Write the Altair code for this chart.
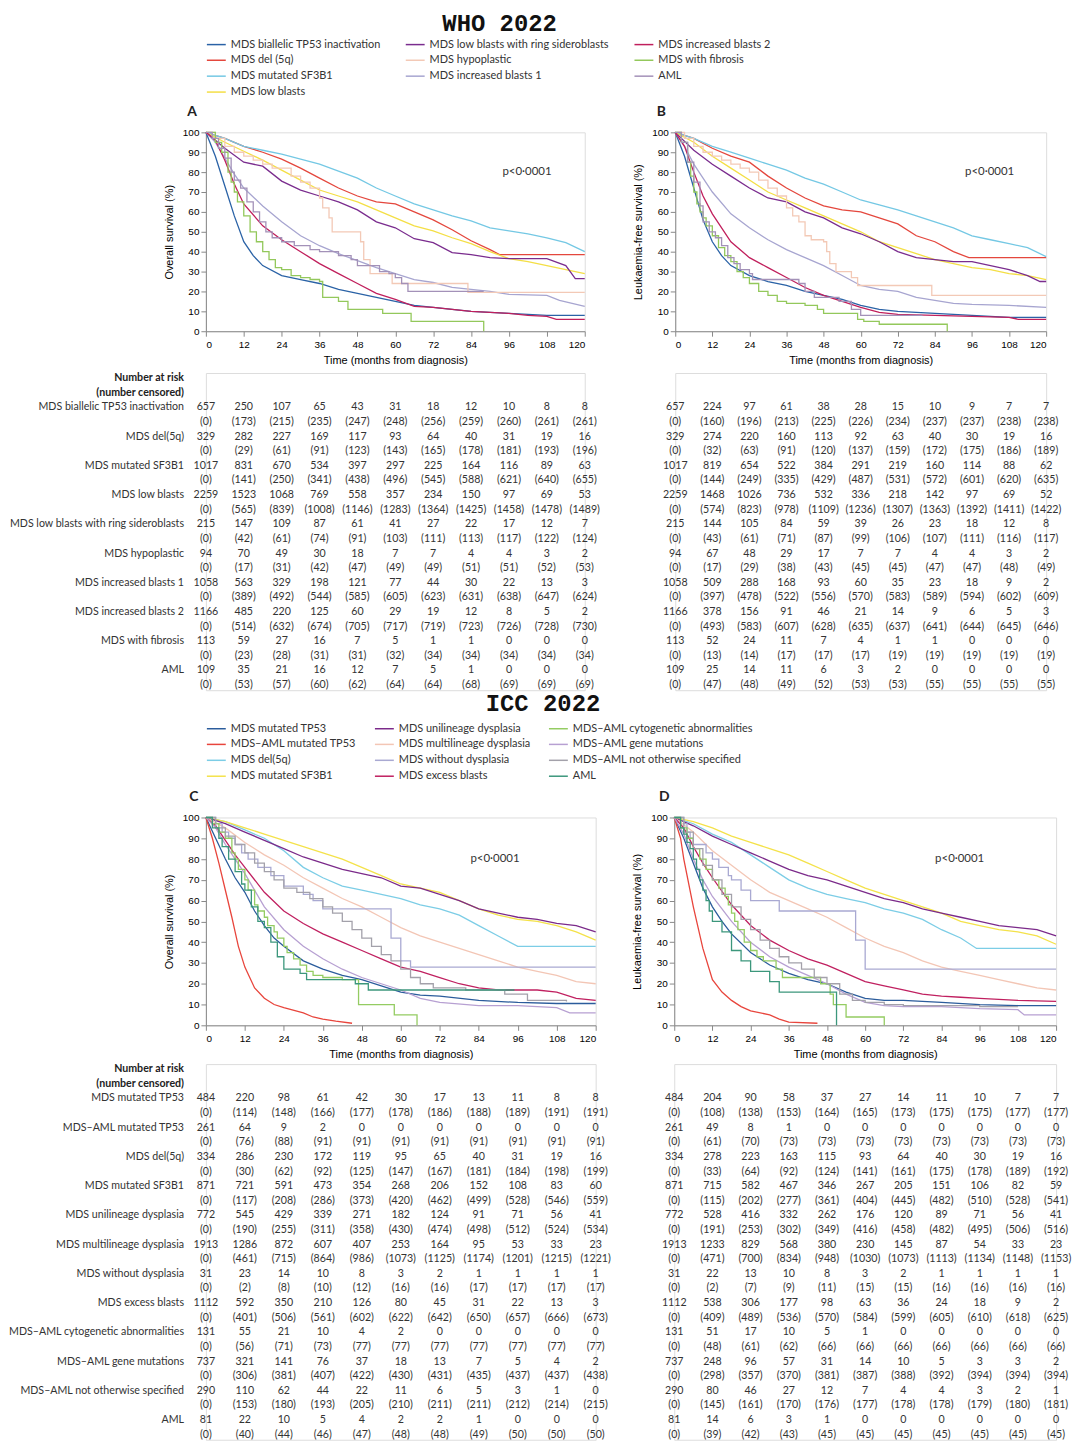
import altair as alt
import pandas as pd

FONT = "Lato"
MONTHS = [0, 12, 24, 36, 48, 60, 72, 84, 96, 108, 120]
Y_TICKS = list(range(0, 101, 10))
PVAL = "p<0\u00b70001"
D = "\u2013"

# ---------------- WHO 2022 ----------------
WHO_GROUPS = ["MDS biallelic TP53 inactivation", "MDS del (5q)", "MDS mutated SF3B1", "MDS low blasts",
              "MDS low blasts with ring sideroblasts", "MDS hypoplastic", "MDS increased blasts 1",
              "MDS increased blasts 2", "MDS with fibrosis", "AML"]
WHO_TABLE_LABELS = ["MDS biallelic TP53 inactivation", "MDS del(5q)", "MDS mutated SF3B1", "MDS low blasts",
                    "MDS low blasts with ring sideroblasts", "MDS hypoplastic", "MDS increased blasts 1",
                    "MDS increased blasts 2", "MDS with fibrosis", "AML"]
WHO_COLORS = ["#2a62a6", "#e4473d", "#74c8e4", "#f4df45", "#7a2c8e", "#f3c9b6", "#a7a5d0",
              "#c01f5c", "#93c85b", "#a391b8"]
# legend domain order (gives 3 columns: 4 / 3 / 3 entries, as in the figure)
WHO_LEGEND_ORDER = [0, 1, 2, 9, 4, 5, 6, 3, 7, 8]
WHO_STEP = ["MDS hypoplastic", "MDS with fibrosis", "AML"]

WHO_OS = {
    "MDS biallelic TP53 inactivation": [(0, 100), (3, 88), (6, 73), (9, 58), (12, 45), (15, 38), (18, 33), (24, 28), (30, 26), (36, 24), (42, 21), (48, 19), (54, 17), (60, 15), (66, 13), (72, 12), (84, 10), (96, 9), (108, 8), (120, 8)],
    "MDS del (5q)": [(0, 100), (6, 97), (12, 93), (18, 90), (24, 86.5), (30, 82), (36, 77), (42, 72), (48, 68), (54, 65), (60, 64), (66, 60), (72, 56), (78, 51), (84, 45.5), (90, 41), (93, 38.5), (120, 38.5)],
    "MDS mutated SF3B1": [(0, 100), (6, 97), (12, 93), (18, 91), (24, 89), (30, 86.5), (36, 84), (42, 80.5), (48, 77), (54, 72), (60, 68), (66, 64), (72, 61), (78, 58), (84, 55.5), (90, 52), (96, 50.5), (102, 49), (108, 47), (114, 44.5), (120, 40)],
    "MDS low blasts": [(0, 100), (6, 95), (12, 90.5), (18, 86), (24, 81), (30, 76), (36, 71), (42, 68), (48, 65), (54, 61), (60, 57), (66, 53), (72, 50.5), (78, 47), (84, 44), (90, 40), (96, 36.5), (102, 35), (108, 33), (114, 31), (120, 29)],
    "MDS low blasts with ring sideroblasts": [(0, 100), (6, 92), (12, 85), (18, 83), (24, 75.5), (30, 71), (36, 68), (42, 65), (48, 61), (54, 55), (60, 52), (66, 46.5), (72, 44.5), (78, 39.5), (84, 38.5), (90, 37), (96, 36.5), (108, 36.5), (114, 33), (117, 26.5), (120, 26.5)],
    "MDS hypoplastic": [(0, 100), (3, 97), (6, 93), (9, 90), (12, 88), (15, 86), (18, 84), (21, 82), (27, 78), (30, 75), (33, 72), (36, 67), (37, 62), (39, 57), (40, 50), (49, 45), (50, 36), (52, 29), (59, 24), (83, 19.5), (120, 19.5)],
    "MDS increased blasts 1": [(0, 100), (3, 95), (6, 87), (9, 79), (12, 72), (18, 63), (24, 55), (30, 48), (36, 43), (42, 39), (48, 35.5), (54, 32), (60, 29), (66, 26), (72, 24.5), (78, 22), (84, 21), (90, 20), (96, 18.5), (108, 18), (112, 15.5), (116, 14), (120, 12.5)],
    "MDS increased blasts 2": [(0, 100), (3, 96), (6, 86), (9, 74), (12, 64), (18, 53), (24, 46), (30, 40), (36, 34), (42, 29), (48, 24), (54, 19), (60, 16), (66, 12.5), (72, 12), (78, 11), (84, 10), (90, 9.5), (96, 9), (102, 8), (108, 7.5), (111, 6), (120, 6)],
    "MDS with fibrosis": [(0, 100), (3, 95), (5, 90), (7, 80), (8, 75), (9, 70), (10, 65), (12, 58), (14, 50), (16, 45), (18, 40), (20, 36), (22, 32), (24, 31), (27, 28), (30, 27), (33, 26), (36, 25), (37, 17), (42, 15), (45, 11), (56, 9), (65, 5), (88, 0)],
    "AML": [(0, 100), (2, 97), (4, 92), (6, 87), (8, 80), (9, 76), (11, 72), (13, 65), (15, 60), (17, 55), (19, 50), (21, 47), (24, 45), (28, 43), (33, 41), (36, 40), (42, 38), (46, 36), (48, 33), (55, 30), (58, 29), (60, 27), (62, 24), (64, 20), (88, 20)],
}

WHO_LFS = {
    "MDS biallelic TP53 inactivation": [(0, 100), (3, 88), (6, 72), (9, 56), (12, 45), (15, 38), (18, 33), (24, 28), (30, 25), (36, 23), (42, 20), (48, 18), (54, 16), (60, 13), (66, 11), (72, 10), (84, 9), (96, 8), (108, 7), (120, 7)],
    "MDS del (5q)": [(0, 100), (6, 97), (12, 92), (18, 88), (24, 85), (30, 78), (36, 72), (42, 67), (48, 63), (54, 61), (60, 60), (66, 57), (72, 54), (78, 48), (84, 45), (90, 40), (95, 37), (120, 37)],
    "MDS mutated SF3B1": [(0, 100), (6, 97), (12, 93), (18, 90), (24, 87), (30, 84), (36, 81), (42, 77), (48, 74), (54, 70), (60, 66), (66, 63.5), (72, 61), (78, 58), (84, 55), (90, 52), (96, 48), (102, 46), (108, 44), (114, 42), (120, 37.5)],
    "MDS low blasts": [(0, 100), (6, 95), (12, 88), (18, 82), (24, 76), (30, 70), (36, 66), (42, 62), (48, 58), (54, 54), (60, 50), (66, 45), (72, 42), (78, 39), (84, 36), (90, 34), (96, 32), (102, 31), (108, 29), (114, 28), (120, 26)],
    "MDS low blasts with ring sideroblasts": [(0, 100), (6, 91), (12, 84), (18, 78), (24, 72), (30, 67), (36, 65), (42, 60), (48, 57), (54, 52), (60, 49), (66, 45), (72, 40), (78, 37), (84, 36), (90, 35), (96, 35), (102, 33), (108, 31), (114, 28), (118, 25), (120, 25)],
    "MDS hypoplastic": [(0, 100), (3, 97), (6, 93), (9, 90), (12, 88), (15, 86), (18, 84), (21, 82), (24, 80), (27, 76), (30, 72), (33, 68), (36, 62), (38, 58), (40, 55), (42, 48), (44, 46), (48, 45), (49, 40), (50, 34), (52, 30), (57, 27), (59, 23), (83, 18), (120, 18)],
    "MDS increased blasts 1": [(0, 100), (3, 93), (6, 84), (9, 77), (12, 70), (18, 59), (24, 52), (30, 46), (36, 41), (42, 37), (48, 33), (54, 28), (60, 23), (66, 21), (72, 20), (78, 17), (84, 15.5), (90, 14), (96, 13.5), (108, 13), (120, 12)],
    "MDS increased blasts 2": [(0, 100), (3, 93), (6, 80), (9, 68), (12, 59), (18, 45), (24, 37), (30, 32), (36, 27), (42, 22), (48, 18), (54, 15), (60, 12), (66, 9.5), (72, 8.5), (84, 8), (96, 7.5), (108, 7), (111, 6), (120, 6)],
    "MDS with fibrosis": [(0, 100), (2, 95), (4, 85), (5, 78), (6, 70), (7, 64), (8, 60), (9, 57), (10, 53), (12, 48), (14, 42), (16, 38), (18, 35), (20, 30), (22, 27), (24, 24), (27, 20), (30, 18), (33, 15), (36, 14), (42, 13), (46, 11), (48, 9), (59, 6), (61, 5), (66, 3.5), (88, 0)],
    "AML": [(0, 100), (2, 95), (4, 85), (6, 75), (8, 63), (9, 55), (11, 50), (13, 47), (15, 43), (17, 37), (19, 34), (21, 31), (24, 29), (25, 26), (40, 24), (42, 20), (45, 17), (53, 15), (57, 11), (60, 8), (80, 8)],
}

WHO_OS_RISK = [[657, 250, 107, 65, 43, 31, 18, 12, 10, 8, 8], [329, 282, 227, 169, 117, 93, 64, 40, 31, 19, 16],
               [1017, 831, 670, 534, 397, 297, 225, 164, 116, 89, 63], [2259, 1523, 1068, 769, 558, 357, 234, 150, 97, 69, 53],
               [215, 147, 109, 87, 61, 41, 27, 22, 17, 12, 7], [94, 70, 49, 30, 18, 7, 7, 4, 4, 3, 2],
               [1058, 563, 329, 198, 121, 77, 44, 30, 22, 13, 3], [1166, 485, 220, 125, 60, 29, 19, 12, 8, 5, 2],
               [113, 59, 27, 16, 7, 5, 1, 1, 0, 0, 0], [109, 35, 21, 16, 12, 7, 5, 1, 0, 0, 0]]
WHO_OS_CENS = [[0, 173, 215, 235, 247, 248, 256, 259, 260, 261, 261], [0, 29, 61, 91, 123, 143, 165, 178, 181, 193, 196],
               [0, 141, 250, 341, 438, 496, 545, 588, 621, 640, 655], [0, 565, 839, 1008, 1146, 1283, 1364, 1425, 1458, 1478, 1489],
               [0, 42, 61, 74, 91, 103, 111, 113, 117, 122, 124], [0, 17, 31, 42, 47, 49, 49, 51, 51, 52, 53],
               [0, 389, 492, 544, 585, 605, 623, 631, 638, 647, 624], [0, 514, 632, 674, 705, 717, 719, 723, 726, 728, 730],
               [0, 23, 28, 31, 31, 32, 34, 34, 34, 34, 34], [0, 53, 57, 60, 62, 64, 64, 68, 69, 69, 69]]
WHO_LFS_RISK = [[657, 224, 97, 61, 38, 28, 15, 10, 9, 7, 7], [329, 274, 220, 160, 113, 92, 63, 40, 30, 19, 16],
                [1017, 819, 654, 522, 384, 291, 219, 160, 114, 88, 62], [2259, 1468, 1026, 736, 532, 336, 218, 142, 97, 69, 52],
                [215, 144, 105, 84, 59, 39, 26, 23, 18, 12, 8], [94, 67, 48, 29, 17, 7, 7, 4, 4, 3, 2],
                [1058, 509, 288, 168, 93, 60, 35, 23, 18, 9, 2], [1166, 378, 156, 91, 46, 21, 14, 9, 6, 5, 3],
                [113, 52, 24, 11, 7, 4, 1, 1, 0, 0, 0], [109, 25, 14, 11, 6, 3, 2, 0, 0, 0, 0]]
WHO_LFS_CENS = [[0, 160, 196, 213, 225, 226, 234, 237, 237, 238, 238], [0, 32, 63, 91, 120, 137, 159, 172, 175, 186, 189],
                [0, 144, 249, 335, 429, 487, 531, 572, 601, 620, 635], [0, 574, 823, 978, 1109, 1236, 1307, 1363, 1392, 1411, 1422],
                [0, 43, 61, 71, 87, 99, 106, 107, 111, 116, 117], [0, 17, 29, 38, 43, 45, 45, 47, 47, 48, 49],
                [0, 397, 478, 522, 556, 570, 583, 589, 594, 602, 609], [0, 493, 583, 607, 628, 635, 637, 641, 644, 645, 646],
                [0, 13, 14, 17, 17, 17, 19, 19, 19, 19, 19], [0, 47, 48, 49, 52, 53, 53, 55, 55, 55, 55]]

# ---------------- ICC 2022 ----------------
ICC_GROUPS = ["MDS mutated TP53", "MDS" + D + "AML mutated TP53", "MDS del(5q)", "MDS mutated SF3B1",
              "MDS unilineage dysplasia", "MDS multilineage dysplasia", "MDS without dysplasia", "MDS excess blasts",
              "MDS" + D + "AML cytogenetic abnormalities", "MDS" + D + "AML gene mutations",
              "MDS" + D + "AML not otherwise specified", "AML"]
ICC_COLORS = ["#2b5c9c", "#e8453c", "#7ccde6", "#f4e24a", "#7b2a8a", "#f3c6b5", "#a9a9d2", "#c02060",
              "#94cc62", "#b7a0d2", "#a3a1aa", "#3c977c"]
ICC_LEGEND_ORDER = list(range(12))
ICC_STEP = ["MDS without dysplasia", "MDS" + D + "AML cytogenetic abnormalities",
            "MDS" + D + "AML not otherwise specified", "AML"]

ICC_OS = {
    ICC_GROUPS[0]: [(0, 100), (3, 90), (6, 80), (9, 71), (12, 64), (15, 55), (18, 48), (21, 42), (24, 38), (30, 31), (36, 27), (42, 24), (48, 22), (54, 19), (60, 16), (66, 14.5), (72, 14), (84, 12), (96, 11), (108, 10.5), (120, 10.5)],
    ICC_GROUPS[1]: [(0, 100), (2, 90), (4, 78), (6, 65), (8, 52), (9, 45), (10, 38), (12, 28), (15, 18), (18, 13), (21, 10), (24, 8.5), (30, 6), (33, 4), (36, 3), (40, 2), (45, 1)],
    ICC_GROUPS[2]: [(0, 100), (6, 98), (12, 94), (18, 90), (24, 84), (30, 76), (36, 71), (42, 67), (48, 65), (54, 63), (60, 61), (66, 58), (72, 56), (78, 53), (84, 48), (90, 43), (96, 38), (120, 38)],
    ICC_GROUPS[3]: [(0, 100), (6, 98), (12, 95), (18, 92), (24, 89), (30, 86), (36, 83), (42, 80), (48, 76), (54, 72), (60, 68), (66, 66), (72, 64), (78, 60), (84, 56), (90, 53), (96, 51), (102, 50), (108, 48), (114, 45), (120, 41)],
    ICC_GROUPS[4]: [(0, 100), (6, 97), (12, 93), (18, 89), (24, 85), (30, 81), (36, 78), (42, 75), (48, 73), (54, 71), (60, 67), (66, 66), (72, 63), (78, 60), (84, 56), (90, 54), (96, 52), (102, 51), (108, 49), (114, 48), (120, 45)],
    ICC_GROUPS[5]: [(0, 100), (6, 95), (12, 88), (18, 82), (24, 77), (30, 71), (36, 66), (42, 61), (48, 57), (54, 52), (60, 47), (66, 43), (72, 40), (78, 37), (84, 34), (90, 31), (96, 28), (102, 26), (108, 24), (114, 21), (120, 20)],
    ICC_GROUPS[6]: [(0, 100), (3, 97), (5, 93), (7, 90), (9, 87), (11, 83), (13, 80), (16, 76), (20, 72), (24, 67), (30, 63), (33, 60), (36, 56), (57, 42), (60, 31), (63, 28), (120, 28)],
    ICC_GROUPS[7]: [(0, 100), (3, 96), (6, 89), (9, 82), (12, 76), (18, 64), (24, 55), (30, 49), (36, 44), (42, 40), (48, 36), (54, 32), (60, 28), (66, 26), (72, 23), (78, 20), (84, 18), (90, 17), (102, 17), (108, 16), (114, 13), (120, 12)],
    ICC_GROUPS[8]: [(0, 100), (2, 97), (4, 93), (6, 90), (8, 83), (9, 80), (10, 75), (12, 70), (13, 65), (15, 58), (16, 55), (18, 52), (19, 48), (21, 45), (22, 42), (24, 38), (25, 35), (27, 32), (29, 29), (31, 26), (33, 24), (36, 23), (42, 22), (47, 10), (58, 5), (65, 0)],
    ICC_GROUPS[9]: [(0, 100), (3, 95), (6, 87), (9, 80), (12, 73), (18, 57), (24, 46), (30, 38), (36, 32), (42, 27), (48, 23), (54, 20), (60, 17), (66, 13), (72, 11), (84, 9.5), (96, 9.5), (108, 8.5), (112, 6), (120, 6)],
    ICC_GROUPS[10]: [(0, 100), (3, 95), (6, 91), (9, 87), (12, 83), (15, 78), (18, 74), (21, 70), (24, 66), (28, 64), (32, 61), (36, 57), (39, 54), (42, 50), (45, 46), (48, 42), (51, 38), (54, 34), (57, 31), (60, 27), (63, 23), (66, 20), (70, 18), (80, 17), (92, 15), (99, 12), (111, 11.5)],
    ICC_GROUPS[11]: [(0, 100), (2, 95), (4, 90), (5, 86), (7, 80), (9, 74), (11, 68), (12, 65), (14, 57), (16, 50), (18, 47), (20, 40), (22, 33), (24, 27), (29, 25), (31, 22), (46, 20), (50, 17), (95, 17)],
}

ICC_LFS = {
    ICC_GROUPS[0]: [(0, 100), (3, 90), (6, 78), (9, 66), (12, 57), (15, 50), (18, 44), (24, 35), (30, 29), (36, 25), (42, 22), (48, 20), (54, 16), (60, 13), (66, 12), (72, 12), (84, 11), (96, 10), (108, 9.5), (120, 9.5)],
    ICC_GROUPS[1]: [(0, 100), (2, 90), (3, 80), (6, 57), (9, 37), (12, 22), (15, 16), (18, 12), (21, 9), (24, 7), (30, 5), (33, 3), (36, 1.5), (45, 1)],
    ICC_GROUPS[2]: [(0, 100), (6, 97), (12, 92), (18, 88), (24, 82), (30, 76), (36, 70), (42, 66), (48, 63), (54, 61), (60, 59), (66, 56), (72, 54), (78, 51), (84, 46), (90, 42), (95, 37), (120, 37)],
    ICC_GROUPS[3]: [(0, 100), (6, 98), (12, 95), (18, 91), (24, 88), (30, 85), (36, 82), (42, 78), (48, 74), (54, 70), (60, 66), (66, 63), (72, 60), (78, 57), (84, 54), (90, 50), (96, 48), (102, 46), (108, 45), (114, 43), (120, 39)],
    ICC_GROUPS[4]: [(0, 100), (6, 96), (12, 91), (18, 87), (24, 83), (30, 79), (36, 75), (42, 72), (48, 70), (54, 67), (60, 64), (66, 61), (72, 59), (78, 56), (84, 54), (90, 52), (96, 50), (102, 48), (108, 47), (114, 46), (120, 43)],
    ICC_GROUPS[5]: [(0, 100), (6, 93), (12, 84), (18, 77), (24, 70), (30, 64), (36, 60), (42, 56), (48, 52), (54, 47), (60, 42), (66, 38), (72, 35), (78, 31), (84, 28), (90, 26), (96, 24), (102, 22), (108, 20), (114, 18), (120, 17)],
    ICC_GROUPS[6]: [(0, 100), (3, 97), (4, 93), (5, 90), (6, 87), (10, 83), (12, 80), (14, 76), (17, 72), (18, 70), (21, 65), (24, 60), (33, 55), (57, 41), (60, 27), (120, 27)],
    ICC_GROUPS[7]: [(0, 100), (3, 95), (6, 86), (9, 78), (12, 71), (18, 58), (24, 48), (30, 41), (36, 36), (42, 32), (48, 29), (54, 25), (60, 21), (66, 19), (72, 17), (78, 15), (84, 14), (90, 13.5), (96, 13), (108, 12), (120, 11.5)],
    ICC_GROUPS[8]: [(0, 100), (2, 95), (4, 90), (6, 85), (8, 80), (10, 75), (12, 70), (14, 66), (16, 62), (17, 58), (18, 54), (19, 50), (20, 46), (22, 40), (24, 36), (26, 33), (28, 31), (32, 27), (34, 23), (46, 20), (49, 15), (50, 10), (54, 4), (66, 0)],
    ICC_GROUPS[9]: [(0, 100), (3, 92), (6, 80), (9, 70), (12, 62), (18, 50), (24, 40), (30, 33), (36, 28), (42, 24), (48, 20), (54, 15), (60, 11), (66, 9.5), (72, 9), (84, 9), (96, 8), (108, 7.5), (110, 5), (120, 5)],
    ICC_GROUPS[10]: [(0, 100), (3, 93), (6, 85), (9, 77), (12, 70), (15, 63), (18, 57), (21, 51), (24, 46), (27, 41), (30, 37), (33, 33), (36, 30), (40, 27), (44, 23), (48, 20), (52, 15), (56, 12), (60, 11), (66, 10), (72, 9.5), (96, 9), (108, 9)],
    ICC_GROUPS[11]: [(0, 100), (2, 95), (3, 92), (4, 88), (5, 85), (6, 80), (7, 75), (8, 70), (9, 65), (10, 60), (11, 55), (12, 50), (15, 45), (18, 36), (21, 31), (24, 26), (30, 21), (33, 16), (51, 0)],
}

ICC_OS_RISK = [[484, 220, 98, 61, 42, 30, 17, 13, 11, 8, 8], [261, 64, 9, 2, 0, 0, 0, 0, 0, 0, 0],
               [334, 286, 230, 172, 119, 95, 65, 40, 31, 19, 16], [871, 721, 591, 473, 354, 268, 206, 152, 108, 83, 60],
               [772, 545, 429, 339, 271, 182, 124, 91, 71, 56, 41], [1913, 1286, 872, 607, 407, 253, 164, 95, 53, 33, 23],
               [31, 23, 14, 10, 8, 3, 2, 1, 1, 1, 1], [1112, 592, 350, 210, 126, 80, 45, 31, 22, 13, 3],
               [131, 55, 21, 10, 4, 2, 0, 0, 0, 0, 0], [737, 321, 141, 76, 37, 18, 13, 7, 5, 4, 2],
               [290, 110, 62, 44, 22, 11, 6, 5, 3, 1, 0], [81, 22, 10, 5, 4, 2, 2, 1, 0, 0, 0]]
ICC_OS_CENS = [[0, 114, 148, 166, 177, 178, 186, 188, 189, 191, 191], [0, 76, 88, 91, 91, 91, 91, 91, 91, 91, 91],
               [0, 30, 62, 92, 125, 147, 167, 181, 184, 198, 199], [0, 117, 208, 286, 373, 420, 462, 499, 528, 546, 559],
               [0, 190, 255, 311, 358, 430, 474, 498, 512, 524, 534], [0, 461, 715, 864, 986, 1073, 1125, 1174, 1201, 1215, 1221],
               [0, 2, 8, 10, 12, 16, 16, 17, 17, 17, 17], [0, 401, 506, 561, 602, 622, 642, 650, 657, 666, 673],
               [0, 56, 71, 73, 77, 77, 77, 77, 77, 77, 77], [0, 306, 381, 407, 422, 430, 431, 435, 437, 437, 438],
               [0, 153, 180, 193, 205, 210, 211, 211, 212, 214, 215], [0, 40, 44, 46, 47, 48, 48, 49, 50, 50, 50]]
ICC_LFS_RISK = [[484, 204, 90, 58, 37, 27, 14, 11, 10, 7, 7], [261, 49, 8, 1, 0, 0, 0, 0, 0, 0, 0],
                [334, 278, 223, 163, 115, 93, 64, 40, 30, 19, 16], [871, 715, 582, 467, 346, 267, 205, 151, 106, 82, 59],
                [772, 528, 416, 332, 262, 176, 120, 89, 71, 56, 41], [1913, 1233, 829, 568, 380, 230, 145, 87, 54, 33, 23],
                [31, 22, 13, 10, 8, 3, 2, 1, 1, 1, 1], [1112, 538, 306, 177, 98, 63, 36, 24, 18, 9, 2],
                [131, 51, 17, 10, 5, 1, 0, 0, 0, 0, 0], [737, 248, 96, 57, 31, 14, 10, 5, 3, 3, 2],
                [290, 80, 46, 27, 12, 7, 4, 4, 3, 2, 1], [81, 14, 6, 3, 1, 0, 0, 0, 0, 0, 0]]
ICC_LFS_CENS = [[0, 108, 138, 153, 164, 165, 173, 175, 175, 177, 177], [0, 61, 70, 73, 73, 73, 73, 73, 73, 73, 73],
                [0, 33, 64, 92, 124, 141, 161, 175, 178, 189, 192], [0, 115, 202, 277, 361, 404, 445, 482, 510, 528, 541],
                [0, 191, 253, 302, 349, 416, 458, 482, 495, 506, 516], [0, 471, 700, 834, 948, 1030, 1073, 1113, 1134, 1148, 1153],
                [0, 2, 7, 9, 11, 15, 15, 16, 16, 16, 16], [0, 409, 489, 536, 570, 584, 599, 605, 610, 618, 625],
                [0, 48, 61, 62, 66, 66, 66, 66, 66, 66, 66], [0, 298, 357, 370, 381, 387, 388, 392, 394, 394, 394],
                [0, 145, 161, 170, 176, 177, 178, 178, 179, 180, 181], [0, 39, 42, 43, 45, 45, 45, 45, 45, 45, 45]]


def km_panel(groups, colors, legend_order, curves, step_groups, width, height, ytitle,
             letter, letter_dx, letter_dy, p_month, legend_y, col_pad):
    rows = []
    for g in groups:
        for i, (m, v) in enumerate(curves[g]):
            rows.append({"group": g, "month": m, "value": v, "idx": i, "step": g in step_groups})
    df = pd.DataFrame(rows)
    dom = [groups[i] for i in legend_order]
    rng = [colors[i] for i in legend_order]
    x = alt.X("month:Q", scale=alt.Scale(domain=[0, 120], nice=False, zero=False),
              axis=alt.Axis(values=MONTHS, title="Time (months from diagnosis)", grid=False,
                            labelPadding=3, titlePadding=5, titleFontWeight="normal"))
    y = alt.Y("value:Q", scale=alt.Scale(domain=[0, 100], nice=False),
              axis=alt.Axis(values=Y_TICKS, title=ytitle, grid=False, labelPadding=2, titlePadding=8,
                            titleFontWeight="normal", titleFontSize=11))
    if legend_y is not None:
        leg = alt.Legend(orient="none", legendX=0, legendY=legend_y, columns=3, title=None,
                         symbolType="stroke", symbolSize=361, symbolStrokeWidth=1.5,
                         labelFont=FONT, labelFontSize=11, labelColor="#333", labelLimit=400,
                         labelOffset=4, columnPadding=col_pad, rowPadding=0, padding=0)
    else:
        leg = None
    color = alt.Color("group:N", scale=alt.Scale(domain=dom, range=rng), legend=leg)
    base = alt.Chart(df)
    smooth = base.transform_filter("!datum.step").mark_line(strokeWidth=1.3).encode(
        x=x, y=y, color=color, order=alt.Order("idx:Q"))
    step = base.transform_filter("datum.step").mark_line(strokeWidth=1.3, interpolate="step-after").encode(
        x=x, y=y, color=color, order=alt.Order("idx:Q"))
    let_df = pd.DataFrame({"month": [0], "value": [100], "t": [letter]})
    let = alt.Chart(let_df).mark_text(font=FONT, fontSize=14, fontWeight="bold", color="#222",
                                      dx=letter_dx, dy=letter_dy).encode(x=x, y=y, text="t:N")
    p_df = pd.DataFrame({"month": [p_month], "value": [80], "t": [PVAL]})
    pt = alt.Chart(p_df).mark_text(font=FONT, fontSize=11.5, color="#333").encode(x=x, y=y, text="t:N")
    return alt.layer(smooth, step, let, pt).properties(width=width, height=height)


def risk_table(labels, risk, cens, width, row_h, show_labels):
    n = len(labels)
    rows = []
    for i in range(n):
        for j, m in enumerate(MONTHS):
            rows.append({"row": 2 * i, "month": m, "t": str(risk[i][j])})
            rows.append({"row": 2 * i + 1, "month": m, "t": "(" + str(cens[i][j]) + ")"})
    df = pd.DataFrame(rows)
    lo, hi = -2.35, 2 * n - 0.65
    x = alt.X("month:Q", scale=alt.Scale(domain=[0, 120], nice=False, zero=False), axis=None)
    y = alt.Y("row:Q", scale=alt.Scale(domain=[lo, hi], reverse=True, nice=False, zero=False), axis=None)
    layers = [alt.Chart(df).mark_text(font=FONT, fontSize=10.7, color="#333").encode(x=x, y=y, text="t:N")]
    if show_labels:
        lab_df = pd.DataFrame({"row": [2 * i for i in range(n)], "month": [0] * n, "t": labels})
        head_df = pd.DataFrame({"row": [-2, -1], "month": [0, 0], "t": ["Number at risk", "(number censored)"]})
        layers.append(alt.Chart(lab_df).mark_text(font=FONT, fontSize=10.7, color="#333", align="right", dx=-22)
                      .encode(x=x, y=y, text="t:N"))
        layers.append(alt.Chart(head_df).mark_text(font=FONT, fontSize=10.7, color="#222", fontWeight="bold",
                                                   align="right", dx=-22).encode(x=x, y=y, text="t:N"))
    return alt.layer(*layers).properties(width=width, height=row_h * (hi - lo))


plotA = km_panel(WHO_GROUPS, WHO_COLORS, WHO_LEGEND_ORDER, WHO_OS, WHO_STEP, 381, 200,
                 "Overall survival (%)", "A", -14, -20, 101.7, -99, 22)
plotB = km_panel(WHO_GROUPS, WHO_COLORS, WHO_LEGEND_ORDER, WHO_LFS, WHO_STEP, 373, 200,
                 "Leukaemia-free survival (%)", "B", -14, -20, 101.7, None, 22)
tableA = risk_table(WHO_TABLE_LABELS, WHO_OS_RISK, WHO_OS_CENS, 381, 14.7, True)
tableB = risk_table(WHO_TABLE_LABELS, WHO_LFS_RISK, WHO_LFS_CENS, 373, 14.7, False)

plotC = km_panel(ICC_GROUPS, ICC_COLORS, ICC_LEGEND_ORDER, ICC_OS, ICC_STEP, 392, 209,
                 "Overall survival (%)", "C", -12, -21, 89, -100, 15)
plotD = km_panel(ICC_GROUPS, ICC_COLORS, ICC_LEGEND_ORDER, ICC_LFS, ICC_STEP, 384, 209,
                 "Leukaemia-free survival (%)", "D", -10, -21, 89.7, None, 15)
tableC = risk_table(ICC_GROUPS, ICC_OS_RISK, ICC_OS_CENS, 392, 14.7, True)
tableD = risk_table(ICC_GROUPS, ICC_LFS_RISK, ICC_LFS_CENS, 384, 14.7, False)

who = alt.concat(plotA, plotB, tableA, tableB, columns=2, bounds="flush",
                 spacing={"row": 42, "column": 91},
                 title=alt.TitleParams("WHO 2022", font="Liberation Mono", fontSize=24, fontWeight="bold",
                                       color="#111", anchor="middle", dx=-36, offset=-3, baseline="top")
                 ).resolve_scale(color="independent")
icc = alt.concat(plotC, plotD, tableC, tableD, columns=2, bounds="flush",
                 spacing={"row": 39, "column": 79},
                 title=alt.TitleParams("ICC 2022", font="Liberation Mono", fontSize=24, fontWeight="bold",
                                       color="#111", anchor="middle", dx=3, offset=2, baseline="top")
                 ).resolve_scale(color="independent")

chart = alt.vconcat(who, icc, spacing=0,
                    padding={"left": 0, "top": 0, "right": 0, "bottom": 0}
                    ).resolve_scale(color="independent").configure_view(stroke=None).configure_axis(
    labelFont=FONT, labelFontSize=11.5, labelColor="#333", titleFont=FONT, titleFontSize=11.5,
    titleFontWeight="normal", titleColor="#333", domainColor="#555", tickColor="#555", tickSize=4
).configure(background="white")

chart.save("out.html", embed_options={"renderer": "svg", "actions": False})
